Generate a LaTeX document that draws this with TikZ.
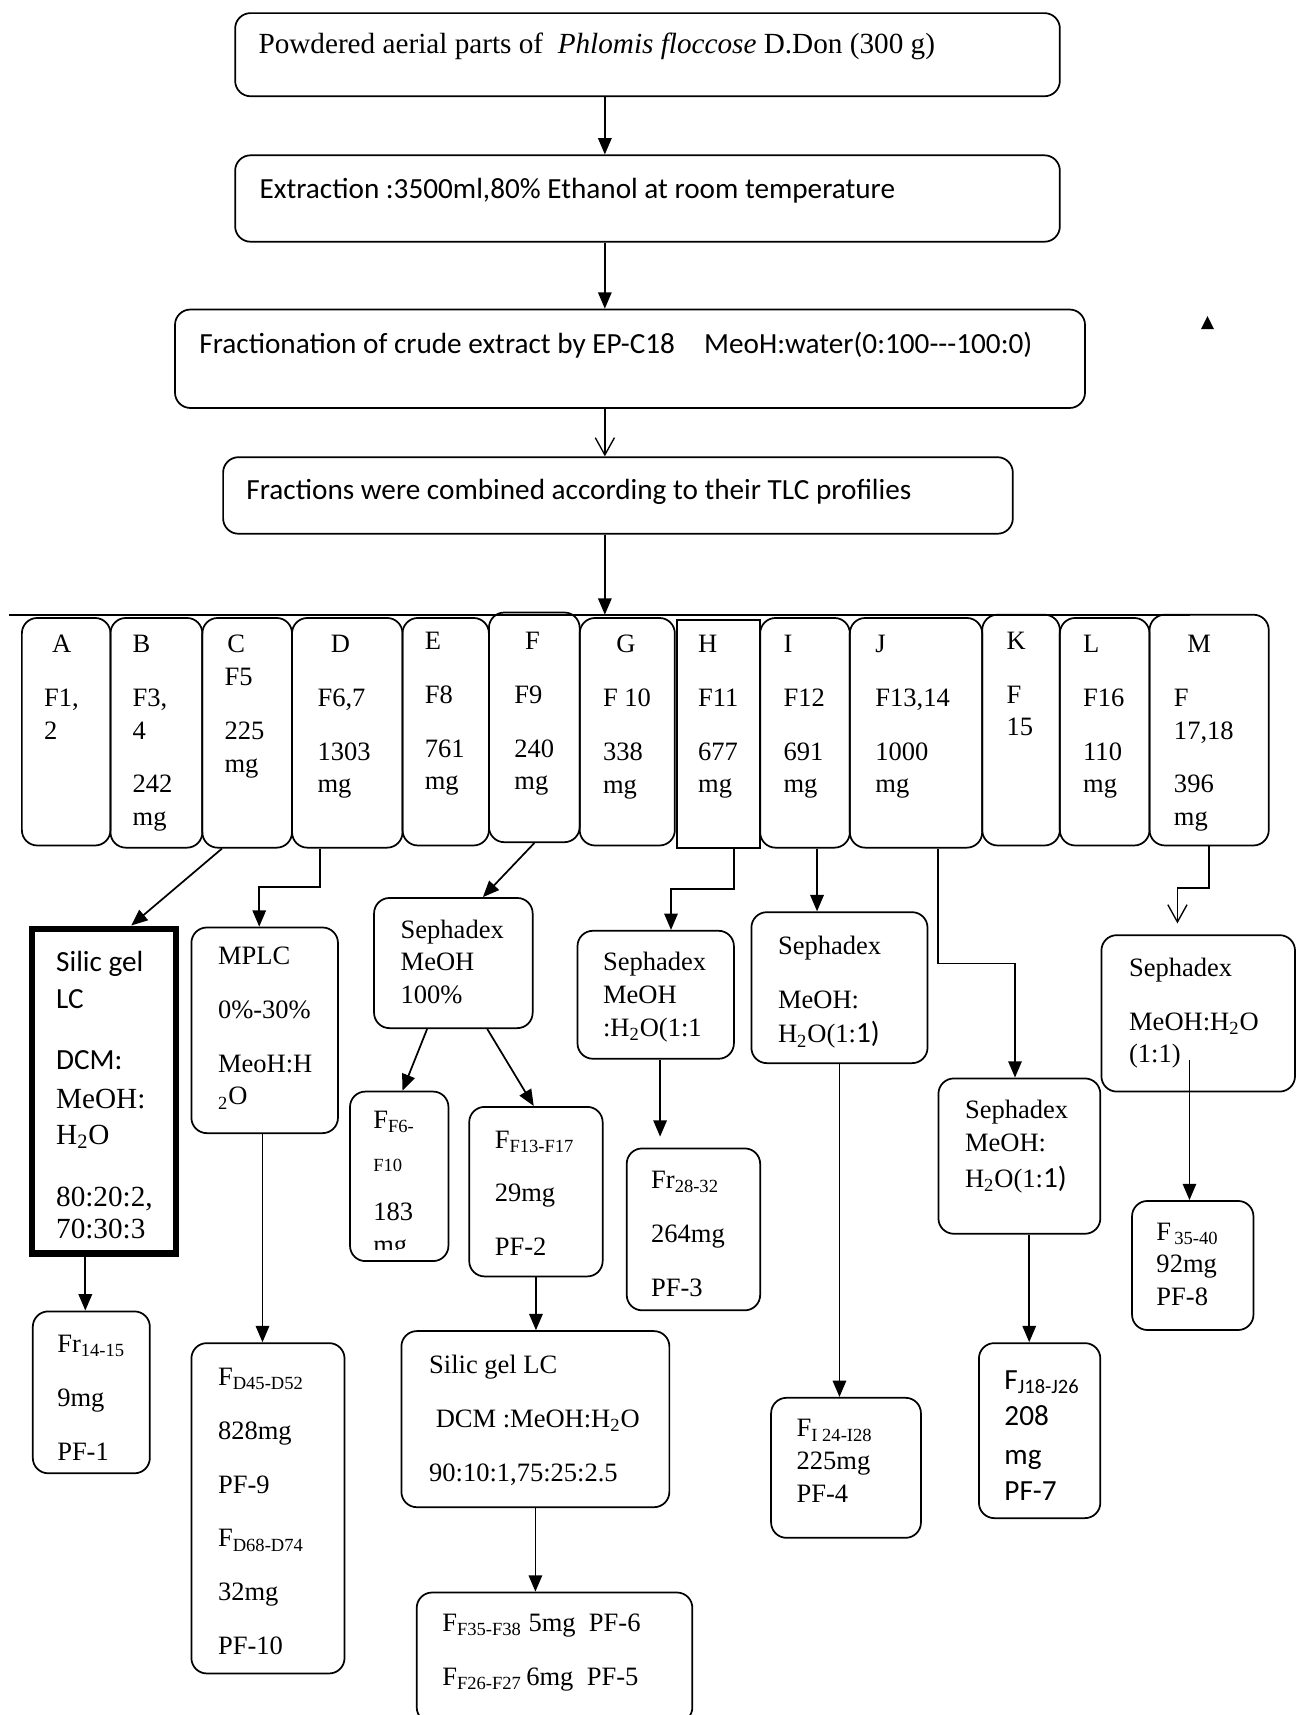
\documentclass[tikz,border=0pt]{standalone}
\usepackage{fontspec}
\setmainfont{Liberation Serif}
\setsansfont{Carlito}
\usetikzlibrary{arrows.meta,fit}
\newcommand{\sz}{\fontsize{13.8}{17}\selectfont}
\newcommand{\szbig}{\fontsize{15.2}{17}\selectfont}
\newcommand{\gp}{11pt}
\tikzset{
  box/.style={draw, rounded corners=8pt, line width=0.9pt, inner sep=0pt},
  sqbox/.style={draw, line width=0.9pt, inner sep=0pt},
  txt/.style={anchor=north west, inner sep=0pt, align=left, font=\sz, yshift=-0.07cm, execute at begin node=\strut},
  arr/.style={-{Triangle[length=8.5pt,width=7pt]}, line width=0.9pt},
  vee/.style={-{Straight Barb[length=9pt,width=10pt]}, line width=0.7pt},
}
\begin{document}
\begin{tikzpicture}[x=0.02cm, y=-0.02cm]
	\useasboundingbox (0,0) rectangle (1185,1568);
	
	%%%%% top chain %%%%%
	\node[box, fit={(215,12) (969,88)}] (b1) {};
	\node[box, fit={(215,142) (969,221)}] (b2) {};
	\node[box, fit={(160,283) (992,373)}] (b3) {};
	\node[box, fit={(204,418) (926,488)}] (b4) {};
	
	\node[txt, font=\szbig] (t1) at (236,24) {Powdered aerial parts of \ \textit{Phlomis floccose} D.Don (300 g)};
	\node[txt, font=\szbig\sffamily] (t2) at (237,157) {Extraction :3500ml,80\% Ethanol at room temperature};
	\node[txt, font=\szbig\sffamily] (t3) at (182,298) {Fractionation of crude extract by EP-C18\quad MeoH:water(0:100{-}{-}{-}100:0)};
	\node[txt, font=\szbig\sffamily] (t4) at (225,432) {Fractions were combined according to their TLC profilies};
	
	\coordinate (spine) at (553,0);
	\coordinate (rowL) at (8,562);
	\coordinate (rowR) at (1088,562);
	\draw[arr] (b1.south -| spine) -- (b2.north -| spine);
	\draw[arr] (b2.south -| spine) -- (b3.north -| spine);
	\draw[vee] (b3.south -| spine) -- (b4.north -| spine);
	\draw[line width=0.9pt] (rowL) -- (rowR);
	\draw[arr] (b4.south -| spine) -- (spine |- rowL);
	
	\fill (1098,301) -- (1110,301) -- (1104,289) -- cycle;
	
	%%%%% row of fractions %%%%%
	\node[box, fit={(20,565) (101,773)}] (A) {};
	\node[box, fit={(101,565) (185,775)}] (B) {};
	\node[box, fit={(185,565) (267,775)}] (C) {};
	\node[box, fit={(267,565) (368,775)}] (D) {};
	\node[box, fit={(368,565) (447,773)}] (E) {};
	\node[box, fit={(447,560) (530,770)}] (F) {};
	\node[box, fit={(530,565) (617,773)}] (G) {};
	\node[sqbox, fit={(619,567) (695,775)}] (H) {};
	\node[box, fit={(695,565) (777,775)}] (I) {};
	\node[box, fit={(777,565) (898,775)}] (J) {};
	\node[box, fit={(898,562) (969,773)}] (K) {};
	\node[box, fit={(969,565) (1051,773)}] (L) {};
	\node[box, fit={(1051,562) (1160,773)}] (M) {};
	
	\node[txt] (tA) at (40,577) {\hspace*{0.3em}A\\[\gp]F1,\\2};
	\node[txt] (tB) at (121,577) {B\\[\gp]F3,\\4\\[\gp]242\\mg};
	\node[txt] (tC) at (205,577) {\hspace*{0.1em}C\\F5\\[\gp]225\\mg};
	\node[txt] (tD) at (290,577) {\hspace*{0.5em}D\\[\gp]F6,7\\[\gp]1303\\mg};
	\node[txt] (tE) at (388,574) {E\\[\gp]F8\\[\gp]761\\mg};
	\node[txt] (tF) at (470,574) {\hspace*{0.4em}F\\[\gp]F9\\[\gp]240\\mg};
	\node[txt] (tG) at (551,577) {\hspace*{0.5em}G\\[\gp]F 10\\[\gp]338\\mg};
	\node[txt] (tH) at (638,577) {H\\[\gp]F11\\[\gp]677\\mg};
	\node[txt] (tI) at (716,577) {I\\[\gp]F12\\[\gp]691\\mg};
	\node[txt] (tJ) at (800,577) {J\\[\gp]F13,14\\[\gp]1000\\mg};
	\node[txt] (tK) at (920,574) {K\\[\gp]F\\15};
	\node[txt] (tL) at (990,577) {L\\[\gp]F16\\[\gp]110\\mg};
	\node[txt] (tM) at (1073,577) {\hspace*{0.5em}M\\[\gp]F\\17,18\\[\gp]396\\mg};
	
	%%%%% second level %%%%%
	\node[sqbox, line width=3.2pt, fit={(29,849) (161,1146)}] (sil) {};
	\node[box, fit={(175,848) (309,1036)}] (mplc) {};
	\node[box, fit={(342,821) (487,940)}] (seph1) {};
	\node[box, fit={(528,851) (671,968)}] (sephH) {};
	\node[box, fit={(687,834) (848,972)}] (sephI) {};
	\node[box, fit={(858,986) (1006,1128)}] (sephJ) {};
	\node[box, fit={(1007,855) (1184,998)}] (sephM) {};
	
	\node[txt] (tsil) at (51,866) {{\szbig\sffamily Silic gel}\\[2pt]{\szbig\sffamily LC}\\[15pt]{\szbig\sffamily DCM:}\\[3pt]{\szbig MeOH:}\\[2pt]{\szbig H\textsubscript{2}O}\\[15pt]{\szbig 80:20:2,}\\{\szbig 70:30:3}};
	\node[txt] (tmplc) at (199,862) {MPLC\\[\gp]0\%-30\%\\[\gp]MeoH:H\\{}\textsubscript{2}O};
	\node[txt] (tseph1) at (366,837) {Sephadex\\MeOH\\100\%};
	\node[txt] (tsephH) at (551,867) {Sephadex\\MeOH\\:H\textsubscript{2}O(1:1};
	\node[txt] (tsephI) at (711,852) {Sephadex\\[\gp]MeOH:\\[1pt]H\textsubscript{2}O(1:{\sffamily\szbig 1)}};
	\node[txt] (tsephJ) at (882,1002) {Sephadex\\MeOH:\\[2pt]H\textsubscript{2}O(1:{\sffamily\szbig 1)}};
	\node[txt] (tsephM) at (1032,872) {Sephadex\\[\gp]MeOH:H\textsubscript{2}O\\(1:1)};
	
	%%%%% products %%%%%
	\node[box, fit={(30,1199) (137,1347)}] (fr14) {};
	\node[box, fit={(175,1228) (315,1530)}] (fd) {};
	\node[box, fit={(320,998) (410,1153)}] (ff6) {};
	\node[box, fit={(429,1012) (551,1167)}] (ff13) {};
	\node[box, fit={(367,1217) (612,1378)}] (sillc) {};
	\node[box, fit={(381,1456) (633,1575)}] (fbot) {};
	\node[box, fit={(573,1050) (695,1198)}] (fr28) {};
	\node[box, fit={(705,1278) (842,1406)}] (fi) {};
	\node[box, fit={(895,1228) (1006,1388)}] (fj) {};
	\node[box, fit={(1035,1098) (1146,1216)}] (f35) {};
	
	\node[txt] (tfr14) at (52,1217) {Fr\textsubscript{14-15}\\[\gp]9mg\\[\gp]PF-1};
	\node[txt] (tfd) at (199,1247) {F\textsubscript{D45-D52}\\[\gp]828mg\\[\gp]PF-9\\[\gp]F\textsubscript{D68-D74}\\[\gp]32mg\\[\gp]PF-10};
	\begin{scope}
		\clip (322,1000) rectangle (408,1142);
		\node[txt] (tff6) at (341,1012) {F\textsubscript{F6-}\\[3pt]\textsubscript{F10}\\[\gp]183\\mg};
	\end{scope}
	\node[txt] (tff13) at (452,1030) {F\textsubscript{F13-F17}\\[\gp]29mg\\[\gp]PF-2};
	\node[txt] (tsillc) at (392,1235) {Silic gel LC\\[\gp]\hspace*{0.25em}DCM :MeOH:H\textsubscript{2}O\\[\gp]90:10:1,75:25:2.5};
	\node[txt] (tfbot) at (404,1472) {F\textsubscript{F35-F38} 5mg\ \ PF-6\\[\gp]F\textsubscript{F26-F27}\,6mg\ \ PF-5};
	\node[txt] (tfr28) at (595,1067) {Fr\textsubscript{28-32}\\[\gp]264mg\\[\gp]PF-3};
	\node[txt] (tfi) at (728,1294) {F\textsubscript{I 24-I28}\\225mg\\PF-4};
	\node[txt, font=\szbig\sffamily] (tfj) at (918,1249) {F\textsubscript{J18-J26}\\[2pt]208\\[3pt]mg\\[2pt]PF-7};
	\node[txt] (tf35) at (1057,1114) {F\textsubscript{\,35-40}\\92mg\\PF-8};
	
	%%%%% connectors %%%%%
	\draw[arr] ([shift={(-23,0)}]C.south) -- ([shift={(25,0)}]sil.north);
	\draw[arr] ([shift={(-25,0)}]D.south) -- ++(0,35) -| ([shift={(-5,0)}]mplc.north);
	\draw[arr] (F.south) -- ([shift={(27,0)}]seph1.north);
	\draw[arr] ([shift={(14,0)}]H.south) -- ++(0,37) -| ([shift={(14,0)}]sephH.north);
	\draw[arr] ([shift={(11,0)}]I.south) -- ([shift={(11,0)}]I.south |- sephI.north);
	\draw[arr] ([shift={(20,0)}]J.south) -- ++(0,105) -| ([shift={(-4,0)}]sephJ.north);
	\draw[vee, shorten >=0.2cm] (M.south) -- ++(0,38) -| ([shift={(-19,0)}]sephM.north);
	
	\draw[arr] ([shift={(-17,0)}]sil.south) -- ([shift={(-17,0)}]sil.south |- fr14.north);
	\draw[arr] ([shift={(-2,0)}]mplc.south) -- ([shift={(-2,0)}]mplc.south |- fd.north);
	\draw[arr] ([shift={(-24,0)}]seph1.south) -- ([shift={(3,0)}]ff6.north);
	\draw[arr] ([shift={(31,0)}]seph1.south) -- ([shift={(-2,0)}]ff13.north);
	\draw[arr] (ff13.south) -- (ff13.south |- sillc.north);
	\draw[arr] (sillc.south) -- (sillc.south |- fbot.north);
	\draw[arr, shorten >=0.2cm] ([shift={(4,0)}]sephH.south) -- ([shift={(4,0)}]sephH.south |- fr28.north);
	\draw[arr] (sephI.south) -- (sephI.south |- fi.north);
	\draw[arr] ([shift={(9,0)}]sephJ.south) -- ([shift={(9,0)}]sephJ.south |- fj.north);
	\draw[arr] ([shift={(-8,-30)}]sephM.south) -- ([shift={(-8,0)}]sephM.south |- f35.north);
\end{tikzpicture}
\end{document}
